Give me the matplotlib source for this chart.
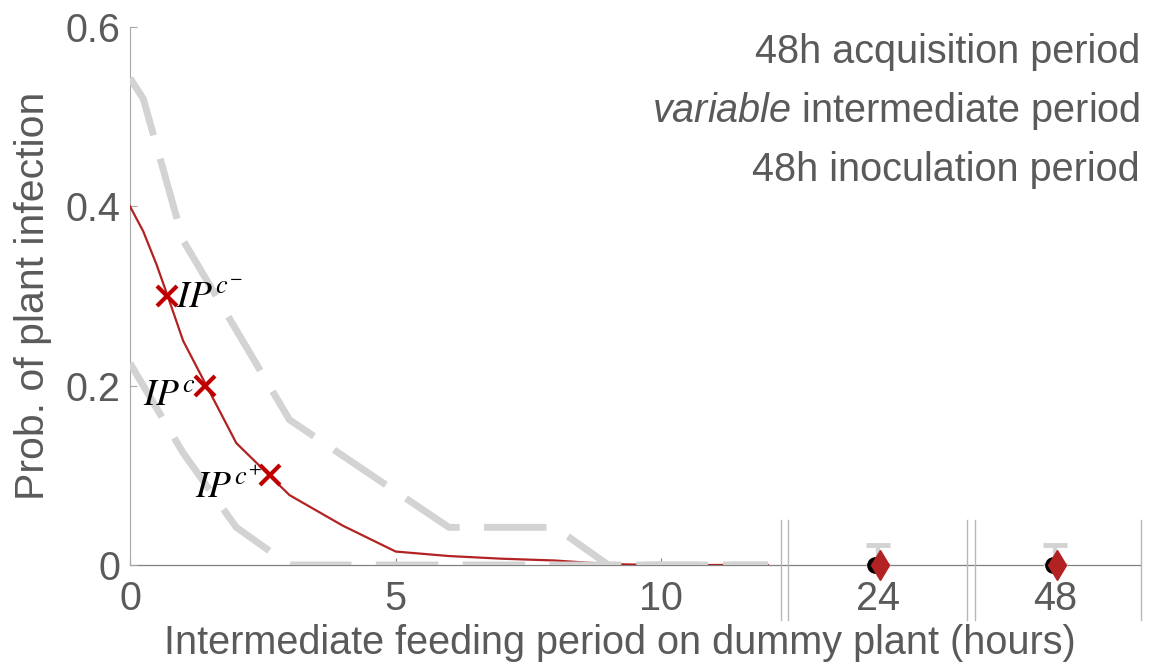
import matplotlib
matplotlib.use("Agg")
import matplotlib.pyplot as plt

plt.rcParams['font.family'] = ['Liberation Sans', 'DejaVu Sans']
plt.rcParams['mathtext.fontset'] = 'custom'
plt.rcParams['mathtext.it'] = 'Liberation Sans:italic'

# model prediction and confidence band (intermediate period, hours)
hours = [0, 0.25, 0.5, 0.75, 1, 2, 3, 4, 5, 6, 7, 8, 9, 10, 11, 12]
prob_mean = [0.40, 0.372, 0.335, 0.293, 0.25, 0.136, 0.078, 0.044, 0.015,
             0.010, 0.007, 0.005, 0.001, 0, 0, 0]

upper_x = [0, 0.25, 1, 3, 6, 8, 9, 10, 11, 12]
upper_y = [0.543, 0.52, 0.362, 0.162, 0.042, 0.042, 0, 0, 0, 0]
lower_x = [0, 0.25, 1, 2, 3, 4, 5, 6, 7, 8, 9, 10, 11, 12]
lower_y = [0.225, 0.20, 0.125, 0.042, 0, 0, 0, 0, 0, 0, 0, 0, 0, 0]

# critical intermediate periods
ip_x = [0.70, 1.41, 2.64]
ip_y = [0.30, 0.20, 0.10]
ip_labels = [r'$IP^{c^{-}}$', r'$IP^{c}$', r'$IP^{c^{+}}$']

# long intermediate periods: observed (black) and model (red)
long_hours = [24, 48]
long_obs = [0, 0]
long_obs_err = [0.022, 0.022]
long_model = [0, 0]

gray_txt = '#5a5a5a'
red = '#b22222'
band = '#d3d3d3'

W, H = 1159, 666
fig = plt.figure(figsize=(W / 100, H / 100), dpi=100)
b, h = 101 / H, 538 / H
ax1 = fig.add_axes([130 / W, b, 651 / W, h])
ax2 = fig.add_axes([788 / W, b, 179 / W, h])
ax3 = fig.add_axes([975 / W, b, 166 / W, h])

for ax in (ax1, ax2, ax3):
    ax.set_ylim(0, 0.6)
    for s in ('top', 'right', 'bottom'):
        ax.spines[s].set_visible(False)
    ax.tick_params(axis='x', direction='in', length=5, color='#808080',
                   labelsize=28.5, labelcolor=gray_txt, pad=11)
    ax.patch.set_alpha(0)

ax1.spines['left'].set_color('#a8a8a8')
ax1.tick_params(axis='y', direction='in', length=5, color='#a8a8a8',
                labelsize=28.5, labelcolor=gray_txt, pad=7)
ax1.set_yticks([0, 0.2, 0.4, 0.6])
ax1.set_yticklabels(['0', '0.2', '0.4', '0.6'])
ax1.set_xlim(0, 12.25)
ax1.set_xticks([0, 5, 10])

for ax in (ax2, ax3):
    ax.spines['left'].set_visible(False)
    ax.set_yticks([])
ax2.set_xlim(20, 28)
ax2.set_xticks([24])
ax3.set_xlim(44, 52.3)
ax3.set_xticks([48])

# continuous zero line across all panels
ax1.plot([0, 1011 / 651], [0, 0], transform=ax1.transAxes, clip_on=False,
         color='#808080', lw=0.9, zorder=1)

# break markers
for ax, xs in ((ax1, [1]), (ax2, [0, 1]), (ax3, [0, 1])):
    for xv in xs:
        ax.plot([xv, xv], [-0.102, 0.084], transform=ax.transAxes,
                clip_on=False, color='#b8b8b8', lw=1.0)

ax1.plot(hours, prob_mean, color=red, lw=1.6, zorder=3)
ax1.plot(upper_x, upper_y, color=band, lw=5, ls=(0, (9, 3.5)), zorder=4)
ax1.plot(lower_x, lower_y, color=band, lw=5, ls=(0, (9, 3.5)), zorder=4)
ax1.plot(ip_x, ip_y, 'x', color='#c00000', ms=14, mew=3, zorder=5)

ip_offsets = [(9, -2, 'left', 'center'), (-9, -10, 'right', 'center'),
              (-9, -12, 'right', 'center')]
for x, y, lab, (dx, dy, ha, va) in zip(ip_x, ip_y, ip_labels, ip_offsets):
    ax1.annotate(lab, (x, y), xytext=(dx, dy), textcoords='offset pixels',
                 ha=ha, va=va, fontsize=27, color='black',
                 math_fontfamily='stix', zorder=6)

for ax, xv, obs, err, mod in zip((ax2, ax3), long_hours, long_obs,
                                 long_obs_err, long_model):
    ax.errorbar([xv], [obs], yerr=[[0], [err]], fmt='none', ecolor=band,
                elinewidth=3, capsize=8.5, capthick=3.5, zorder=2)
    ax.plot([xv - 0.1], [obs], 'o', color='black', ms=11, clip_on=False,
            zorder=3)
    ax.plot([xv + 0.12], [mod], 'd', color=red, ms=15, clip_on=False,
            zorder=4)

ax1.set_ylabel('Prob. of plant infection', fontsize=29.5, color=gray_txt,
               labelpad=10)
fig.text(620 / W, 1 - 643 / H, 'Intermediate feeding period on dummy plant (hours)',
         fontsize=28.5, color=gray_txt, ha='center', va='center')

notes = ['48h acquisition period', r'$\it{variable}$ intermediate period',
         '48h inoculation period']
for i, t in enumerate(notes):
    fig.text(1140 / W, 1 - (52 + 59 * i) / H, t, fontsize=28.5,
             color=gray_txt, ha='right', va='center')

fig.savefig('out.png', dpi=100)
